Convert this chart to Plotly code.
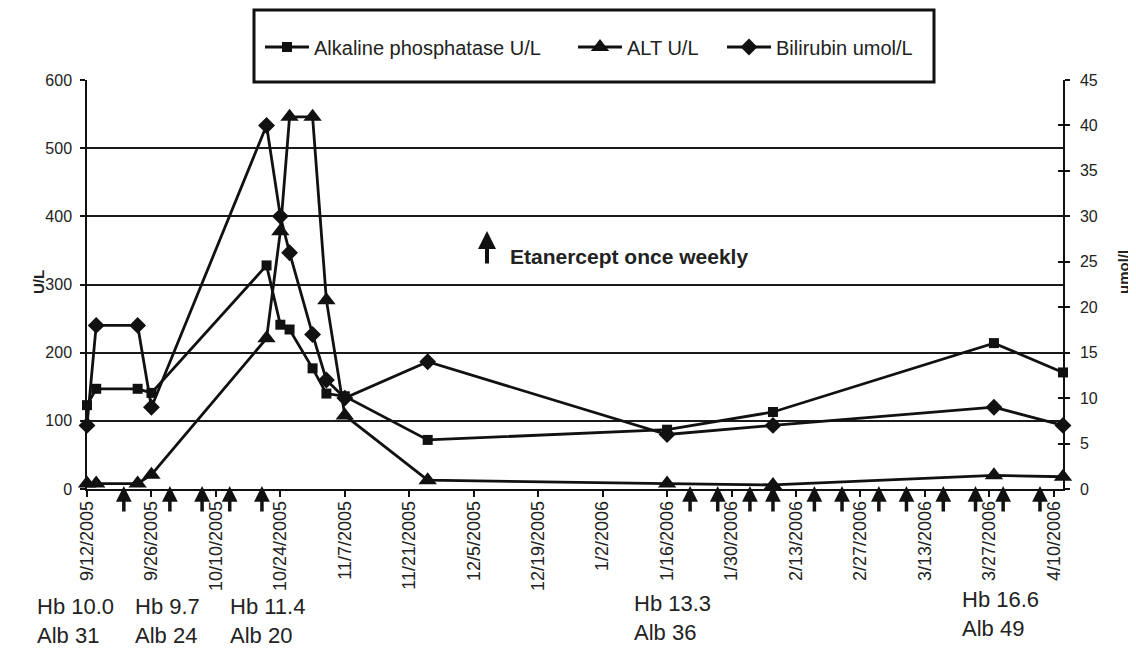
import plotly.graph_objects as go

# ---------------- data ----------------
dates = ['2005-09-12', '2005-09-14', '2005-09-23', '2005-09-26', '2005-10-21',
         '2005-10-24', '2005-10-26', '2005-10-31', '2005-11-03', '2005-11-07',
         '2005-11-25', '2006-01-16', '2006-02-08', '2006-03-28', '2006-04-12']
alk_phos = [123, 147, 147, 141, 328, 241, 234, 177, 140, 136, 72, 87, 113, 214, 171]
alt = [8, 8, 8, 21, 221, 378, 546, 546, 277, 108, 13, 8, 6, 20, 18]
bilirubin = [7, 18, 18, 9, 40, 30, 26, 17, 12, 10, 14, 6, 7, 9, 7]

injection_dates = ['2005-09-20', '2005-09-30', '2005-10-07', '2005-10-13', '2005-10-20',
                   '2006-01-21', '2006-01-27', '2006-02-03', '2006-02-08', '2006-02-17',
                   '2006-02-23', '2006-03-03', '2006-03-09', '2006-03-17', '2006-03-24',
                   '2006-03-30', '2006-04-07']

x_tick_dates = ['2005-09-12', '2005-09-26', '2005-10-10', '2005-10-24', '2005-11-07',
                '2005-11-21', '2005-12-05', '2005-12-19', '2006-01-02', '2006-01-16',
                '2006-01-30', '2006-02-13', '2006-02-27', '2006-03-13', '2006-03-27',
                '2006-04-10']
x_tick_labels = ['9/12/2005', '9/26/2005', '10/10/2005', '10/24/2005', '11/7/2005',
                 '11/21/2005', '12/5/2005', '12/19/2005', '1/2/2006', '1/16/2006',
                 '1/30/2006', '2/13/2006', '2/27/2006', '3/13/2006', '3/27/2006',
                 '4/10/2006']
left_ticks = [0, 100, 200, 300, 400, 500, 600]
right_ticks = [0, 5, 10, 15, 20, 25, 30, 35, 40, 45]

lab_labels = ['Hb 10.0<br>Alb 31', 'Hb 9.7<br>Alb 24', 'Hb 11.4<br>Alb 20',
              'Hb 13.3<br>Alb 36', 'Hb 16.6<br>Alb 49']
lab_pos_px = [(35, 621), (133, 621), (228, 621), (632, 618), (960, 614)]

# ---------------- layout helpers ----------------
# The page body has an 8px default margin, so the figure is drawn 8px right/down.
OFF = 8
W, H = 1136, 648
PLOT_X0, PLOT_X1, PLOT_Y0, PLOT_Y1 = 87, 1063, 80, 489   # page pixels of plot area
L = PLOT_X0 - OFF
T = PLOT_Y0 - OFF
R = W - (PLOT_X1 - OFF)
B = H - (PLOT_Y1 - OFF)
PW = PLOT_X1 - PLOT_X0
PH = PLOT_Y1 - PLOT_Y0


def px(x):
    return (x - PLOT_X0) / PW


def py(y):
    return (PLOT_Y1 - y) / PH


INK = '#111111'
TXT = '#222222'
FONT = 'Liberation Sans, Arial, sans-serif'

fig = go.Figure()

fig.add_trace(go.Scatter(
    x=dates, y=alk_phos, name='Alkaline phosphatase U/L', mode='lines+markers',
    line=dict(color=INK, width=2.8), marker=dict(symbol='square', size=10, color=INK),
    cliponaxis=False, legend='legend'))
fig.add_trace(go.Scatter(
    x=dates, y=alt, name='ALT U/L', mode='lines+markers',
    line=dict(color=INK, width=2.8), marker=dict(symbol='triangle-up', size=16, color=INK),
    cliponaxis=False, legend='legend2'))
fig.add_trace(go.Scatter(
    x=dates, y=bilirubin, name='Bilirubin umol/L', mode='lines+markers', yaxis='y2',
    line=dict(color=INK, width=2.8), marker=dict(symbol='diamond', size=13, color=INK),
    cliponaxis=False, legend='legend3'))

annotations = []
# injection arrows below the x axis
for d in injection_dates:
    annotations.append(dict(x=d, xref='x', y=py(486), yref='paper', text='',
                            showarrow=True, ax=0, ay=27, axref='pixel', ayref='pixel',
                            arrowhead=2, arrowsize=0.9, arrowwidth=3.5, arrowcolor=INK))
# Etanercept key
annotations.append(dict(x=px(487), y=py(231), xref='paper', yref='paper', text='',
                        showarrow=True, ax=0, ay=34, arrowhead=2, arrowsize=0.9,
                        arrowwidth=4, arrowcolor=INK))
annotations.append(dict(x=px(508), y=py(256), xref='paper', yref='paper',
                        text='<b>Etanercept once weekly</b>', showarrow=False,
                        xanchor='left', yanchor='middle',
                        font=dict(family=FONT, size=21, color=TXT)))
# axis titles
annotations.append(dict(x=px(38), y=py(282), xref='paper', yref='paper',
                        text='<b>U/L</b>', showarrow=False, textangle=-90,
                        xanchor='center', yanchor='middle',
                        font=dict(family=FONT, size=15, color=TXT)))
annotations.append(dict(x=px(1123), y=py(272), xref='paper', yref='paper',
                        text='<b>umol/l</b>', showarrow=False, textangle=-90,
                        xanchor='center', yanchor='middle',
                        font=dict(family=FONT, size=15, color=TXT)))
# Hb / Alb labels
for txt, (lx, ly) in zip(lab_labels, lab_pos_px):
    annotations.append(dict(x=px(lx), y=py(ly), xref='paper', yref='paper', text=txt,
                            showarrow=False, xanchor='left', yanchor='middle', align='left',
                            font=dict(family=FONT, size=22, color=TXT)))

legend_common = dict(orientation='h', yanchor='middle', xanchor='left',
                     bgcolor='rgba(0,0,0,0)', borderwidth=0, itemwidth=44,
                     font=dict(family=FONT, size=20, color=TXT))

fig.update_layout(
    width=W, height=H,
    margin=dict(l=L, r=R, t=T, b=B, pad=0),
    paper_bgcolor='white', plot_bgcolor='white',
    showlegend=True,
    legend=dict(x=px(260), y=py(47), **legend_common),
    legend2=dict(x=px(573), y=py(47), **legend_common),
    legend3=dict(x=px(722), y=py(47), **legend_common),
    xaxis=dict(type='date', range=[dates[0], dates[-1]], tickvals=x_tick_dates,
               ticktext=x_tick_labels, tickangle=-90, ticks='outside', ticklen=6,
               tickwidth=1.5, tickcolor=INK, showline=True, linecolor=INK, linewidth=1.5,
               showgrid=False, zeroline=False, ticklabelstandoff=-3,
               tickfont=dict(family=FONT, size=18, color=TXT)),
    yaxis=dict(range=[0, 600], tickvals=left_ticks, ticks='outside', ticklen=5,
               tickwidth=1.5, tickcolor=INK, showline=True, linecolor=INK, linewidth=1.5,
               showgrid=False, zeroline=False, ticklabelstandoff=5,
               tickfont=dict(family=FONT, size=16, color=TXT)),
    yaxis2=dict(range=[0, 45], tickvals=right_ticks, overlaying='y', side='right',
                ticks='outside', ticklen=5, tickwidth=1.5, tickcolor=INK, showline=True,
                linecolor=INK, linewidth=1.5, showgrid=False, zeroline=False,
                ticklabelstandoff=7,
                tickfont=dict(family=FONT, size=16, color=TXT)),
    yaxis3=dict(range=[0, 600], tickvals=left_ticks[1:-1], overlaying='y', side='left',
                showticklabels=False, ticks='', showline=False, showgrid=True,
                gridcolor='#1a1a1a', gridwidth=1.5, zeroline=False),
    yaxis4=dict(range=[0, 45], tickvals=right_ticks, overlaying='y', side='right',
                showticklabels=False, ticks='inside', ticklen=5, tickwidth=1.5,
                tickcolor=INK, showline=False, showgrid=False, zeroline=False),
    annotations=annotations,
    shapes=[dict(type='rect', xref='paper', yref='paper', x0=px(254), x1=px(934),
                 y0=py(82), y1=py(10), line=dict(color=INK, width=3),
                 fillcolor='rgba(0,0,0,0)')],
)

# invisible helper traces to activate the grid / tick helper axes
fig.add_trace(go.Scatter(x=[dates[0]], y=[0], yaxis='y3', mode='markers',
                         marker=dict(opacity=0), showlegend=False, hoverinfo='skip'))
fig.add_trace(go.Scatter(x=[dates[0]], y=[0], yaxis='y4', mode='markers',
                         marker=dict(opacity=0), showlegend=False, hoverinfo='skip'))

fig.write_html('out.html')
